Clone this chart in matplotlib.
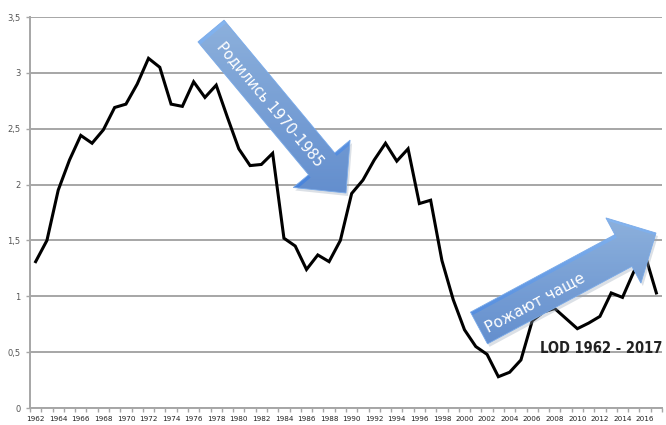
import numpy as np
import matplotlib
matplotlib.use("Agg")
import matplotlib.pyplot as plt
from matplotlib.patches import Polygon

years = list(range(1962, 2018))
lod = [1.31, 1.50, 1.95, 2.22, 2.44, 2.37, 2.49, 2.69, 2.72, 2.90,
       3.13, 3.05, 2.72, 2.70, 2.92, 2.78, 2.89, 2.60, 2.32, 2.17,
       2.18, 2.28, 1.52, 1.45, 1.24, 1.37, 1.31, 1.50, 1.92, 2.04,
       2.22, 2.37, 2.21, 2.32, 1.83, 1.86, 1.32, 0.97, 0.70, 0.55,
       0.48, 0.28, 0.32, 0.43, 0.78, 0.86, 0.89, 0.80, 0.71, 0.76,
       0.82, 1.03, 0.99, 1.22, 1.37, 1.03]
y_ticks = [0, 0.5, 1, 1.5, 2, 2.5, 3, 3.5]
y_labels = ["0", "0,5", "1", "1,5", "2", "2,5", "3", "3,5"]
x_labels = [str(y) for y in range(1962, 2017, 2)]

W, H = 666, 425
fig = plt.figure(figsize=(W / 100, H / 100), dpi=100)
ax = fig.add_axes([30 / W, 17 / H, 632 / W, 391 / H])

for v in y_ticks:
    ax.axhline(v, color="#a6a6a6", lw=1.4, zorder=1)
ax.plot(years, lod, color="black", lw=2.2, solid_joinstyle="miter", zorder=3)

ax.set_xlim(1961.5, 2017.5)
ax.set_ylim(0, 3.5)
ax.set_yticks(y_ticks)
ax.set_yticklabels(y_labels, fontsize=6, color="#555555")
ax.set_xticks(range(1962, 2017, 2))
ax.set_xticklabels(x_labels, fontsize=5.2, color="#222222")
ax.set_xticks(np.arange(1961.5, 2018, 1), minor=True)
ax.tick_params(axis="x", which="major", length=0, pad=6)
ax.tick_params(axis="x", which="minor", length=3, color="#a6a6a6", width=1)
ax.tick_params(axis="y", length=3, color="#a6a6a6", width=1, pad=4)
for s in ["top", "right"]:
    ax.spines[s].set_visible(False)
ax.spines["left"].set_color("#a6a6a6")
ax.spines["bottom"].set_color("#a6a6a6")
ax.spines["left"].set_linewidth(1.4)
ax.spines["bottom"].set_linewidth(1.4)

ax.text(2012.1, 0.53, "LOD 1962 - 2017", fontsize=10.5, fontweight="bold",
        fontstretch="condensed", color="#222222", ha="center",
        va="center", zorder=4)

# overlay in pixel coordinates for the blue arrows
ov = fig.add_axes([0, 0, 1, 1], zorder=5)
ov.set_xlim(0, W)
ov.set_ylim(H, 0)
ov.axis("off")
ov.patch.set_alpha(0)


def arrow_poly(tail, tip, shaft_w, head_w, head_l):
    tail = np.array(tail, float)
    tip = np.array(tip, float)
    d = tip - tail
    d = d / np.hypot(*d)
    n = np.array([-d[1], d[0]])
    base = tip - d * head_l
    return np.array([
        tail + n * shaft_w / 2, base + n * shaft_w / 2, base + n * head_w / 2,
        tip, base - n * head_w / 2, base - n * shaft_w / 2, tail - n * shaft_w / 2,
    ])


def gradient_arrow(pts):
    shadow = Polygon(pts + np.array([2, 3]), closed=True, fc="#9aa7b8",
                     ec="none", alpha=0.35)
    ov.add_patch(shadow)
    poly = Polygon(pts, closed=True, fc="none", ec="#7aaae8", lw=0.6)
    ov.add_patch(poly)
    x0, y0 = pts.min(axis=0)
    x1, y1 = pts.max(axis=0)
    c_top = np.array([0x86, 0xb6, 0xf0]) / 255
    c_bot = np.array([0x47, 0x82, 0xda]) / 255
    t = np.linspace(0, 1, 200)[:, None]
    grad = c_top * (1 - t) + c_bot * t
    img = np.repeat(grad[:, None, :], 2, axis=1)
    im = ov.imshow(img, extent=[x0, x1, y1, y0], aspect="auto",
                   interpolation="bilinear")
    im.set_clip_path(poly)


gradient_arrow(arrow_poly((211, 31), (346, 193), 34, 74, 38))
gradient_arrow(arrow_poly((479, 328), (656, 233), 36, 74, 37))
ov.set_xlim(0, W)
ov.set_ylim(H, 0)

ov.text(270, 104, "Родились 1970-1985", color="white", fontsize=10.5,
        rotation=-50, rotation_mode="anchor", ha="center", va="center")
ov.text(535, 302, "Рожают чаще", color="white", fontsize=11,
        rotation=28, rotation_mode="anchor", ha="center", va="center")

fig.savefig("out.png", dpi=100)
